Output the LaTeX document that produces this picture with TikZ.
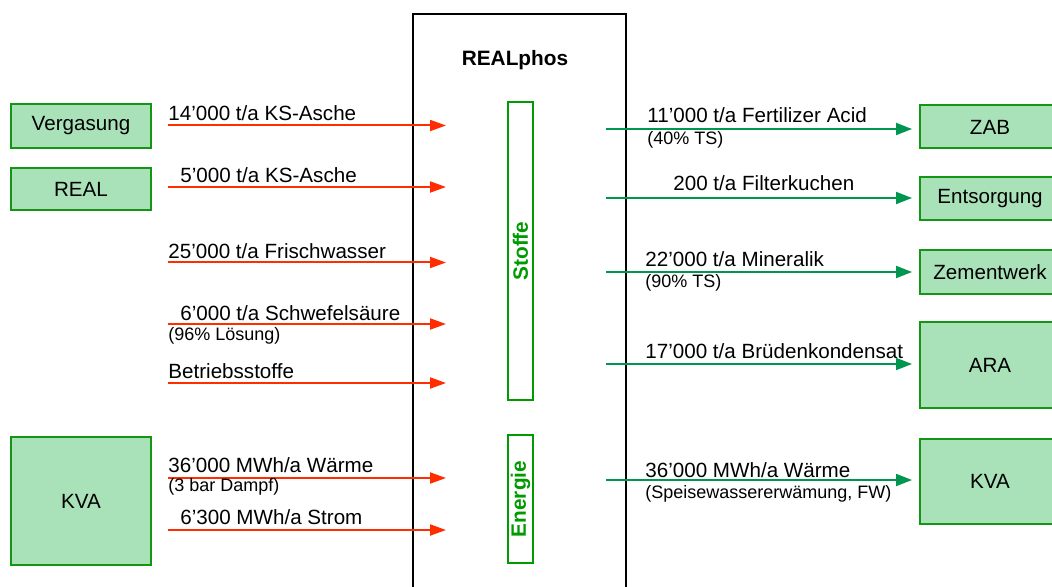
\documentclass[tikz,border=0pt]{standalone}
\usepackage{fontspec}
\setmainfont{Liberation Sans}
\usetikzlibrary{arrows.meta}

\definecolor{unitfill}{RGB}{169,226,185}
\definecolor{unitdraw}{RGB}{20,150,20}
\definecolor{flowred}{RGB}{255,45,0}
\definecolor{flowgreen}{RGB}{0,150,80}
\definecolor{groupgreen}{RGB}{0,155,0}

\tikzstyle{unit}=[draw=unitdraw, fill=unitfill, line width=1pt, minimum width=70pt, inner sep=0pt, font={\fontsize{10.3}{12}\selectfont}]
\tikzstyle{group}=[draw=groupgreen, line width=0.9pt, rotate=90, minimum height=12.5pt, inner sep=0pt, text=groupgreen, font={\fontsize{10.4}{12}\selectfont\bfseries}]
\tikzstyle{flowin}=[draw=flowred, line width=1pt, -{Triangle[length=8pt,width=5.5pt]}]
\tikzstyle{flowout}=[draw=flowgreen, line width=0.9pt, shorten >=3.5pt, -{Triangle[length=8pt,width=6pt]}]
\tikzstyle{amount}=[anchor=base west, inner sep=0pt, font={\fontsize{10.3}{12}\selectfont}]
\tikzstyle{note}=[anchor=base west, inner sep=0pt, font={\fontsize{9}{11}\selectfont}]

\begin{document}
\begin{tikzpicture}[x=0.5pt, y=-0.5pt]
    \useasboundingbox (0,0) rectangle (1052,587);
    \clip (0,0) rectangle (1052,587);

    % plant
    \draw [line width=1pt] (413,14) rectangle (626,600);
    \node [font={\fontsize{10.4}{12}\selectfont\bfseries}] (title) at (515,60) {REALphos};
    \node [group, minimum width=149pt] (stoffe) at (520.5,251) {Stoffe};
    \node [group, minimum width=64pt] (energie) at (520.5,499) {Energie};

    % suppliers
    \node [unit, minimum height=22pt] (vergasung) at (81,126) {Vergasung};
    \node [unit, minimum height=21pt] (real) at (81,189) {REAL};
    \node [unit, minimum height=64pt] (kvain) at (81,501) {KVA};

    % receivers
    \node [unit, minimum height=21.5pt] (zab) at (990,127) {ZAB};
    \node [unit, minimum height=21.5pt] (entsorgung) at (990,199) {Entsorgung};
    \node [unit, minimum height=21.5pt] (zement) at (990,272) {Zementwerk};
    \node [unit, minimum height=43pt] (ara) at (990,365) {ARA};
    \node [unit, minimum height=42.5pt] (kvaout) at (990,481) {KVA};

    % inputs
    \foreach \y/\n in {125.5/1, 187/2, 262.5/3, 324/4, 383/5, 478/6, 530/7} {
        \coordinate (src\n) at (168,\y);
        \coordinate (dst\n) at (446,\y);
        \draw [flowin] (src\n) -- (dst\n);
    }
    \node [amount] (in1) at (168,121) {14’000 t/a KS-Asche};
    \node [amount] (in2) at (180,183) {5’000 t/a KS-Asche};
    \node [amount] (in3) at (168,258) {25’000 t/a Frischwasser};
    \node [amount] (in4) at (180,320) {6’000 t/a Schwefelsäure};
    \node [note] (in4b) at (168,340) {(96\% Lösung)};
    \node [amount] (in5) at (168,378) {Betriebsstoffe};
    \node [amount] (in6) at (168,472) {36’000 MWh/a Wärme};
    \node [note] (in6b) at (168,491) {(3 bar Dampf)};
    \node [amount] (in7) at (180,524) {6’300 MWh/a Strom};

    % outputs
    \coordinate (out1) at (606,129);
    \coordinate (out2) at (606,198);
    \coordinate (out3) at (606,272);
    \coordinate (out4) at (606,364);
    \coordinate (out5) at (606,480);
    \draw [flowout] (out1) -- (out1 -| zab.west);
    \draw [flowout] (out2) -- (out2 -| entsorgung.west);
    \draw [flowout] (out3) -- (out3 -| zement.west);
    \draw [flowout] (out4) -- (out4 -| ara.west);
    \draw [flowout] (out5) -- (out5 -| kvaout.west);
    \node [amount] (o1) at (647,123) {11’000 t/a Fertilizer Acid};
    \node [note] (o1b) at (647,145) {(40\% TS)};
    \node [amount] (o2) at (673,191) {200 t/a Filterkuchen};
    \node [amount] (o3) at (645,267) {22’000 t/a Mineralik};
    \node [note] (o3b) at (645,287) {(90\% TS)};
    \node [amount] (o4) at (645,358) {17’000 t/a Brüdenkondensat};
    \node [amount] (o5) at (645,477) {36’000 MWh/a Wärme};
    \node [note] (o5b) at (645,498) {(Speisewassererwämung, FW)};
\end{tikzpicture}
\end{document}
